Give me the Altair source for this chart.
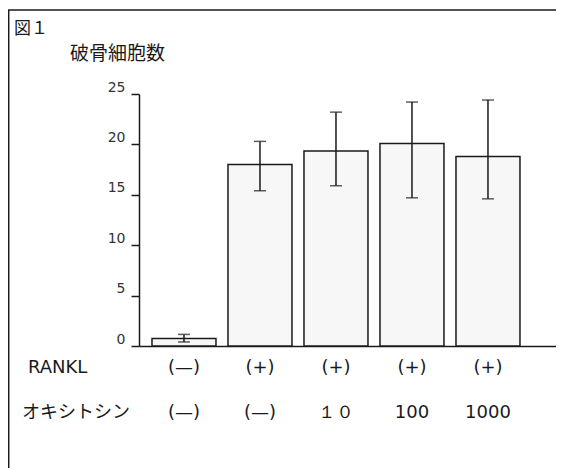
import altair as alt
import pandas as pd

# ---- data ----
groups = ["RANKL- OT-", "RANKL+ OT-", "RANKL+ OT10", "RANKL+ OT100", "RANKL+ OT1000"]
rankl_labels = ["(—)", "(+)", "(+)", "(+)", "(+)"]
oxytocin_labels = ["(—)", "(—)", "１０", "100", "1000"]
means = [0.75, 18.0, 19.35, 20.1, 18.8]
err_low = [0.4, 15.4, 15.9, 14.7, 14.6]
err_high = [1.15, 20.3, 23.2, 24.2, 24.4]
y_ticks = [0, 5, 10, 15, 20, 25]
title_text = "破骨細胞数"
figure_label = "図１"
row_names = ["RANKL", "オキシトシン"]

df = pd.DataFrame({
    "group": groups,
    "rankl": rankl_labels,
    "oxy": oxytocin_labels,
    "mean": means,
    "low": err_low,
    "high": err_high,
})
one = pd.DataFrame({"k": [0]})  # single row for one-off annotations

W, H = 417, 252
INK = "#1a1a1a"
LATIN = "DejaVu Sans"
CJK = "Noto Sans CJK JP"

x_enc = alt.X(
    "group:N",
    sort=groups,
    scale=alt.Scale(domain=groups, paddingInner=0.158, paddingOuter=0.3225, align=0.265),
    axis=alt.Axis(labels=False, ticks=False, title=None, grid=False,
                  domainColor=INK, domainWidth=1.5),
)
y_scale = alt.Scale(domain=[0, 25], nice=False, zero=True)

bars = alt.Chart(df).mark_bar(fill="#f7f7f7", stroke=INK, strokeWidth=1.5).encode(
    x=x_enc,
    y=alt.Y("mean:Q", scale=y_scale,
            axis=alt.Axis(values=y_ticks, title=None, grid=False,
                          tickSize=8, tickWidth=1.5, tickColor=INK,
                          domainColor=INK, domainWidth=1.5,
                          labelFont="DejaVu Sans", labelFontSize=14, labelColor="#333",
                          labelFontWeight="normal",
                          labelPadding=6, labelOffset=-7, labelFlush=False)),
)

err_rule = alt.Chart(df).mark_rule(color=INK, strokeWidth=1.5).encode(
    x=x_enc, y=alt.Y("low:Q", scale=y_scale), y2="high:Q"
)
cap_low = alt.Chart(df).mark_tick(color=INK, size=12, thickness=1.5).encode(
    x=x_enc, y=alt.Y("low:Q", scale=y_scale)
)
cap_high = alt.Chart(df).mark_tick(color=INK, size=12, thickness=1.5).encode(
    x=x_enc, y=alt.Y("high:Q", scale=y_scale)
)

txt = dict(fontSize=18, color=INK, baseline="middle", fontWeight="normal")

rankl_text = alt.Chart(df).mark_text(font=LATIN, **txt).encode(
    x=x_enc, y=alt.value(274), text="rankl:N"
)
oxy_text = alt.Chart(df).mark_text(font=LATIN, **txt).encode(
    x=x_enc, y=alt.value(319), text="oxy:N"
)

rankl_name = alt.Chart(one).mark_text(text=row_names[0], font=LATIN, align="left", **txt).encode(
    x=alt.value(-111), y=alt.value(274)
)
oxy_name = alt.Chart(one).mark_text(text=row_names[1], font=CJK, align="left", **txt).encode(
    x=alt.value(-117), y=alt.value(319)
)
title_mark = alt.Chart(one).mark_text(text=title_text, font=CJK, fontSize=19, color=INK,
                                      fontWeight="normal",
                                      align="left", baseline="middle").encode(
    x=alt.value(-69), y=alt.value(-40)
)
fig_mark = alt.Chart(one).mark_text(text=figure_label, font=CJK, fontSize=17, color=INK,
                                    fontWeight="normal",
                                    align="left", baseline="middle").encode(
    x=alt.value(-125), y=alt.value(-65)
)

border_top = alt.Chart(one).mark_rule(color=INK, strokeWidth=1.5).encode(
    x=alt.value(-131), x2=alt.value(W), y=alt.value(-84)
)
border_left = alt.Chart(one).mark_rule(color=INK, strokeWidth=1.5).encode(
    x=alt.value(-130.3), y=alt.value(-84), y2=alt.value(380)
)

chart = alt.layer(
    bars, err_rule, cap_low, cap_high,
    rankl_text, oxy_text, rankl_name, oxy_name, title_mark, fig_mark,
    border_top, border_left,
).properties(
    width=W, height=H,
    autosize=alt.AutoSizeParams(type="none"),
    padding={"left": 131, "top": 86, "right": 0, "bottom": 122},
    background="white",
).configure_view(strokeWidth=0)

chart.save("out.html", embed_options={"renderer": "svg", "actions": False})
